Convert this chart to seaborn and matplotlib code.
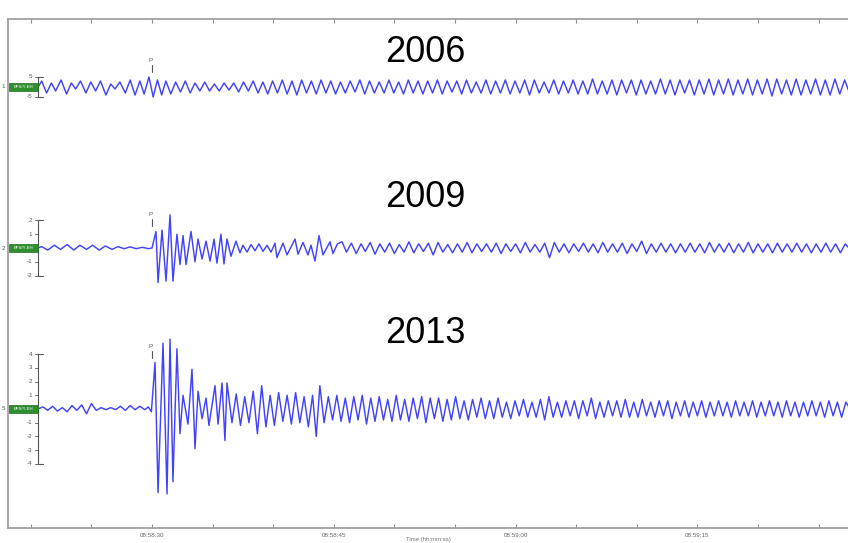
import matplotlib
matplotlib.use("Agg")
import matplotlib.pyplot as plt
import pandas as pd
import seaborn as sns
from matplotlib.patches import Rectangle

# ---------------------------------------------------------------- data
years = ["2006", "2009", "2013"]
stations = ["1", "2", "5"]
channels = ["BFS/Y-EH", "BFS/Y-EH", "BFS/Y-EH"]
amp_ticks = [[5, -5], [2, 1, -1, -2], [4, 3, 2, 1, -1, -2, -3, -4]]
p_pick = [30.0, 30.0, 30.0]          # P arrival (s)

time_ticks = [30, 45, 60, 75]
time_labels = ["08:58:30", "08:58:45", "08:59:00", "08:59:15"]

# trace extrema: (time s, amplitude in station units)
trace_2006 = [
    (20.60, 0), (20.90, 3), (21.30, -3), (21.70, 2), (22.05, -2), (22.50, 3.5),
    (22.95, -3.5), (23.35, 2), (23.70, -1), (24.10, 3), (24.55, -3), (24.95, 2.5),
    (25.35, -2), (25.75, 3), (26.20, -4), (26.60, 1.5), (26.95, -1), (27.35, 2.5),
    (27.80, -3), (28.20, 3.5), (28.60, -4), (29.00, 3), (29.35, -3.5), (29.75, 5),
    (30.10, -5), (30.45, 3.5), (30.80, -4), (31.15, 3), (31.55, -3.5), (31.95, 2.5),
    (32.35, -2.5), (32.75, 3), (33.15, -3), (33.55, 2), (33.95, -2), (34.35, 2.5),
    (34.75, -2), (35.15, 1.5), (35.55, -2), (35.95, 2), (36.35, -1.5), (36.75, 2),
    (37.15, -2.5), (37.55, 2.5), (37.95, -2), (38.35, 3), (38.75, -3), (39.15, 2.5),
    (39.55, -3.5), (39.95, 3), (40.35, -3), (40.75, 3.5), (41.15, -3.5), (41.55, 3),
    (41.95, -4), (42.35, 3.5), (42.75, -3), (43.15, 3), (43.55, -3.5), (43.95, 3.5),
    (44.35, -3), (44.75, 3), (45.15, -3.5), (45.55, 2.5), (45.95, -3), (46.35, 3),
    (46.75, -2.5), (47.15, 3.5), (47.55, -3.5), (47.95, 3), (48.35, -3), (48.75, 2.5),
    (49.15, -3), (49.55, 3.5), (49.95, -3), (50.35, 2.5), (50.75, -3.5), (51.15, 3.5),
    (51.55, -3), (51.95, 3), (52.35, -3.5), (52.75, 3), (53.15, -3), (53.55, 3.5),
    (53.95, -3.5), (54.35, 3), (54.75, -2.5), (55.15, 3), (55.55, -3.5), (55.95, 3.5),
    (56.35, -3), (56.75, 2.5), (57.15, -3), (57.55, 3.5), (57.95, -3.5), (58.35, 3),
    (58.75, -3), (59.15, 3.5), (59.55, -3.5), (59.95, 3), (60.35, -3), (60.75, 3.5),
    (61.15, -4), (61.55, 3.5), (61.95, -3), (62.35, 2.5), (62.75, -3), (63.15, 3.5),
    (63.55, -3.5), (63.95, 3), (64.35, -3), (64.75, 3.5), (65.15, -3.5), (65.55, 3),
    (65.95, -3.5), (66.35, 4), (66.75, -3.5), (67.15, 3), (67.55, -3.5), (67.95, 3.5),
    (68.35, -4), (68.75, 3.5), (69.15, -3), (69.55, 3.5), (69.95, -4), (70.35, 3.5),
    (70.75, -3.5), (71.15, 3), (71.55, -3.5), (71.95, 4), (72.35, -3.5), (72.75, 3.5),
    (73.15, -4), (73.55, 3.5), (73.95, -3), (74.35, 3.5), (74.75, -4), (75.15, 3.5),
    (75.55, -3.5), (75.95, 4), (76.35, -4), (76.75, 3.5), (77.15, -3.5), (77.55, 4),
    (77.95, -4), (78.35, 3.5), (78.75, -3.5), (79.15, 4), (79.55, -4), (79.95, 3.5),
    (80.35, -3.5), (80.75, 4), (81.15, -4.5), (81.55, 4), (81.95, -3.5), (82.35, 3.5),
    (82.75, -4), (83.15, 4), (83.55, -4), (83.95, 3.5), (84.35, -3.5), (84.75, 4),
    (85.15, -4), (85.55, 3.5), (85.95, -4), (86.35, 4), (86.75, -3.5), (87.15, 3.5),
    (87.55, -3),
]

trace_2009 = [
    (20.60, 0.0), (20.90, 0.1), (21.40, -0.15), (21.95, 0.2), (22.45, -0.1),
    (23.00, 0.25), (23.55, -0.15), (24.05, 0.2), (24.60, -0.1), (25.10, 0.2),
    (25.65, -0.15), (26.15, 0.15), (26.70, -0.1), (27.20, 0.1), (27.70, -0.05),
    (28.20, 0.08), (28.70, -0.05), (29.20, 0.05), (29.70, -0.05), (30.00, 0.0),
    (30.33, 1.2), (30.50, -2.5), (30.83, 1.3), (31.16, -2.4), (31.49, 2.4),
    (31.73, -2.4), (32.06, 1.0), (32.31, -1.2), (32.56, 0.9), (32.81, -1.2),
    (33.22, 1.2), (33.55, -1.0), (33.80, 0.65), (34.13, -0.8), (34.46, 0.5),
    (34.79, -0.95), (35.12, 0.65), (35.36, -1.1), (35.69, 1.0), (35.94, -1.15),
    (36.19, 0.65), (36.52, -0.6), (36.93, 0.5), (37.26, -0.35), (37.51, 0.2),
    (37.84, -0.3), (38.17, 0.25), (38.50, -0.2), (38.83, 0.3), (39.16, -0.25),
    (39.49, 0.2), (39.82, -0.3), (40.15, 0.35), (40.31, -0.7), (40.81, 0.35),
    (41.14, -0.5), (41.80, 0.65), (42.05, -0.45), (42.46, 0.4), (42.87, -0.5),
    (43.12, 0.2), (43.45, -0.95), (43.78, 0.9), (44.11, -0.5), (44.69, 0.45),
    (44.93, -0.4), (45.30, 0.3), (45.68, 0.45), (46.05, -0.3), (46.45, 0.35),
    (46.85, -0.4), (47.25, 0.3), (47.60, -0.25), (48.00, 0.4), (48.40, -0.45),
    (48.80, 0.3), (49.20, -0.3), (49.60, 0.35), (50.00, -0.4), (50.40, 0.25),
    (50.80, -0.3), (51.20, 0.45), (51.60, -0.35), (52.00, 0.3), (52.40, -0.25),
    (52.80, 0.35), (53.20, -0.5), (53.60, 0.4), (54.00, -0.3), (54.40, 0.25),
    (54.80, -0.35), (55.20, 0.3), (55.60, -0.3), (56.00, 0.4), (56.40, -0.35),
    (56.80, 0.3), (57.20, -0.25), (57.60, 0.3), (58.00, -0.3), (58.40, 0.35),
    (58.80, -0.4), (59.20, 0.3), (59.60, -0.25), (60.00, 0.3), (60.40, -0.35),
    (60.80, 0.4), (61.20, -0.3), (61.60, 0.25), (62.00, -0.3), (62.40, 0.35),
    (62.80, -0.7), (63.20, 0.4), (63.60, -0.3), (64.00, 0.3), (64.40, -0.35),
    (64.80, 0.3), (65.20, -0.25), (65.60, 0.35), (66.00, -0.3), (66.40, 0.3),
    (66.80, -0.35), (67.20, 0.4), (67.60, -0.3), (68.00, 0.3), (68.40, -0.3),
    (68.80, 0.35), (69.20, -0.4), (69.60, 0.3), (70.00, -0.25), (70.40, 0.5),
    (70.80, -0.4), (71.20, 0.3), (71.60, -0.3), (72.00, 0.35), (72.40, -0.3),
    (72.80, 0.3), (73.20, -0.35), (73.60, 0.3), (74.00, -0.3), (74.40, 0.35),
    (74.80, -0.3), (75.20, 0.3), (75.60, -0.35), (76.00, 0.4), (76.40, -0.3),
    (76.80, 0.3), (77.20, -0.3), (77.60, 0.35), (78.00, -0.35), (78.40, 0.3),
    (78.80, -0.3), (79.20, 0.4), (79.60, -0.35), (80.00, 0.3), (80.40, -0.3),
    (80.80, 0.3), (81.20, -0.35), (81.60, 0.35), (82.00, -0.3), (82.40, 0.3),
    (82.80, -0.3), (83.20, 0.35), (83.60, -0.3), (84.00, 0.3), (84.40, -0.35),
    (84.80, 0.3), (85.20, -0.3), (85.60, 0.35), (86.00, -0.3), (86.40, 0.3),
    (86.80, -0.35), (87.20, 0.3), (87.60, -0.1),
]

trace_2013 = [
    (20.60, 0.0), (21.00, 0.15), (21.40, -0.1), (21.80, 0.2), (22.20, -0.15),
    (22.60, 0.1), (23.00, -0.2), (23.40, 0.25), (23.80, -0.1), (24.20, 0.3),
    (24.60, -0.35), (25.00, 0.4), (25.40, -0.1), (25.80, 0.1), (26.20, -0.05),
    (26.60, 0.1), (27.00, -0.05), (27.40, 0.2), (27.80, -0.1), (28.20, 0.25),
    (28.60, -0.05), (29.00, 0.2), (29.40, -0.05), (29.70, 0.15), (29.95, -0.2),
    (30.25, 3.4), (30.50, -6.1), (30.91, 4.8), (31.24, -6.2), (31.49, 5.1),
    (31.73, -5.3), (32.06, 4.4), (32.31, -1.8), (32.56, 1.0), (32.97, -1.1),
    (33.30, 2.9), (33.55, -2.9), (33.80, 1.3), (34.13, -0.7), (34.46, 0.8),
    (34.70, -1.2), (35.20, 1.7), (35.45, -1.1), (35.78, 1.9), (36.02, -2.3),
    (36.19, 1.9), (36.60, -1.0), (36.95, 1.1), (37.30, -1.2), (37.65, 0.9),
    (38.00, -1.0), (38.35, 1.3), (38.70, -1.8), (39.05, 1.7), (39.40, -1.3),
    (39.75, 1.0), (40.10, -1.2), (40.45, 1.2), (40.80, -0.9), (41.15, 1.0),
    (41.50, -1.1), (41.85, 1.2), (42.20, -1.0), (42.55, 0.9), (42.90, -1.3),
    (43.25, 1.0), (43.55, -2.0), (43.85, 1.7), (44.20, -1.0), (44.55, 0.9),
    (44.90, -0.8), (45.25, 1.0), (45.60, -0.9), (45.95, 0.8), (46.30, -1.0),
    (46.65, 0.9), (47.00, -0.8), (47.35, 1.0), (47.70, -1.1), (48.05, 0.8),
    (48.40, -0.9), (48.75, 0.9), (49.10, -0.8), (49.45, 0.7), (49.80, -0.9),
    (50.15, 1.0), (50.50, -0.8), (50.85, 0.7), (51.20, -0.9), (51.55, 0.8),
    (51.90, -0.7), (52.25, 0.9), (52.60, -1.0), (52.95, 0.8), (53.30, -0.7),
    (53.65, 0.8), (54.00, -0.9), (54.35, 0.7), (54.70, -0.8), (55.05, 0.9),
    (55.40, -0.7), (55.75, 0.6), (56.10, -0.8), (56.45, 0.7), (56.80, -0.6),
    (57.15, 0.8), (57.50, -0.7), (57.85, 0.6), (58.20, -0.7), (58.55, 0.8),
    (58.90, -0.6), (59.25, 0.5), (59.60, -0.7), (59.95, 0.6), (60.30, -0.5),
    (60.65, 0.7), (61.00, -0.6), (61.35, 0.5), (61.70, -0.6), (62.05, 0.7),
    (62.40, -0.8), (62.75, 0.9), (63.10, -0.6), (63.45, 0.5), (63.80, -0.6),
    (64.15, 0.6), (64.50, -0.5), (64.85, 0.6), (65.20, -0.7), (65.55, 0.6),
    (65.90, -0.5), (66.25, 0.8), (66.60, -0.7), (66.95, 0.5), (67.30, -0.6),
    (67.65, 0.6), (68.00, -0.5), (68.35, 0.6), (68.70, -0.6), (69.05, 0.7),
    (69.40, -0.6), (69.75, 0.5), (70.10, -0.6), (70.45, 0.7), (70.80, -0.5),
    (71.15, 0.5), (71.50, -0.6), (71.85, 0.6), (72.20, -0.5), (72.55, 0.6),
    (72.90, -0.7), (73.25, 0.5), (73.60, -0.5), (73.95, 0.6), (74.30, -0.6),
    (74.65, 0.5), (75.00, -0.5), (75.35, 0.6), (75.70, -0.6), (76.05, 0.5),
    (76.40, -0.5), (76.75, 0.6), (77.10, -0.5), (77.45, 0.5), (77.80, -0.6),
    (78.15, 0.6), (78.50, -0.5), (78.85, 0.5), (79.20, -0.5), (79.55, 0.6),
    (79.90, -0.6), (80.25, 0.5), (80.60, -0.5), (80.95, 0.6), (81.30, -0.5),
    (81.65, 0.5), (82.00, -0.6), (82.35, 0.6), (82.70, -0.5), (83.05, 0.5),
    (83.40, -0.6), (83.75, 0.5), (84.10, -0.5), (84.45, 0.6), (84.80, -0.5),
    (85.15, 0.5), (85.50, -0.6), (85.85, 0.6), (86.20, -0.5), (86.55, 0.5),
    (86.90, -0.6), (87.25, 0.5), (87.60, 0.0),
]

traces = [trace_2006, trace_2009, trace_2013]

# ---------------------------------------------------------------- layout
W, H = 848, 543
PX_PER_S = 12.12
T_LEFT = 18.12                        # time at the left frame edge
FRAME_L, FRAME_T, FRAME_B = 8, 19, 528
centres = [87, 248, 409]              # baseline of each trace (canvas px)
gains = [2.0, 13.8, 13.7]             # px per station unit
title_y = [52.5, 197.5, 334]

WAVE = "#4343ff"
GREY = "#8c8c8c"
DARK = "#555555"


def t_at(px):
    return T_LEFT + (px - FRAME_L) / PX_PER_S


frames = []
for yr, tr, c, g in zip(years, traces, centres, gains):
    d = pd.DataFrame(tr, columns=["t", "amp"])
    d["y"] = c - d["amp"] * g
    d["year"] = yr
    frames.append(d)
df = pd.concat(frames, ignore_index=True)

sns.set_theme(style="white")
plt.rcParams["font.family"] = ["Liberation Sans", "DejaVu Sans"]

fig = plt.figure(figsize=(W / 100, H / 100), dpi=100)
ax = fig.add_axes([FRAME_L / W, (H - FRAME_B) / H,
                   (W - FRAME_L) / W, (FRAME_B - FRAME_T) / H])

sns.lineplot(data=df, x="t", y="y", hue="year", palette=[WAVE] * 3,
             estimator=None, sort=False, legend=False, lw=1.05, ax=ax)

ax.set_xlim(T_LEFT, t_at(W))
ax.set_ylim(FRAME_B, FRAME_T)

# frame
for side in ["left", "top", "bottom"]:
    ax.spines[side].set_color("#a0a0a0")
    ax.spines[side].set_linewidth(1.3)
ax.spines["right"].set_visible(False)

ax.set_xticks(range(20, 90, 5))
ax.set_xticklabels([time_labels[time_ticks.index(v)] if v in time_ticks else ""
                    for v in range(20, 90, 5)])
ax.tick_params(axis="x", which="both", direction="in", length=3, width=0.8,
               color=GREY, top=True, bottom=True, labelsize=4.5,
               labelcolor="#666666", pad=3.5)
ax.set_yticks([])
ax.set_xlabel("Time (hh:mm:ss)", fontsize=4.3, color="#777777", labelpad=-0.5)
ax.set_ylabel("")

# per-trace decorations
for i, (yr, c, g) in enumerate(zip(years, centres, gains)):
    # station number and channel badge
    ax.text(t_at(3), c, stations[i], fontsize=4.5, color=DARK,
            ha="center", va="center")
    ax.add_patch(Rectangle((t_at(9), c - 4), 29 / PX_PER_S, 8,
                           facecolor="#2f8f2f", edgecolor="#1e6e1e", lw=0.5,
                           zorder=3))
    ax.text(t_at(23.5), c, channels[i], fontsize=3.2, color="white",
            ha="center", va="center", zorder=4)

    # amplitude scale bracket
    top = c - max(amp_ticks[i]) * g
    bot = c - min(amp_ticks[i]) * g
    xb = t_at(38)
    ax.plot([xb, xb], [top, bot], color=DARK, lw=0.8)
    ax.plot([xb, t_at(43)], [top, top], color=DARK, lw=0.8)
    ax.plot([xb, t_at(43)], [bot, bot], color=DARK, lw=0.8)
    for v in amp_ticks[i]:
        yv = c - v * g
        ax.plot([t_at(35), xb], [yv, yv], color=DARK, lw=0.6)
        ax.text(t_at(32), yv, f"{v}", fontsize=4.5, color=DARK,
                ha="right", va="center")

    # P pick
    tp = p_pick[i]
    yp = c - 20 if i == 0 else (c - 27 if i == 1 else c - 56)
    ax.text(tp - 0.1, yp - 6, "P", fontsize=4.5, color=DARK,
            ha="center", va="center")
    ax.plot([tp, tp], [yp - 2, yp + 5], color=DARK, lw=0.8)

    # year title
    ax.text(t_at(425), title_y[i], yr, fontsize=26, color="black",
            ha="center", va="center")

fig.savefig("out.png", dpi=100)
